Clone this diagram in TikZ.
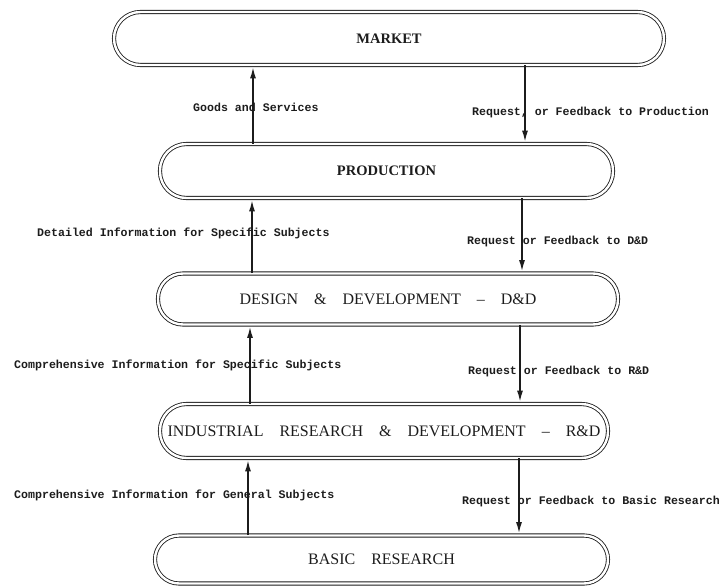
\documentclass[tikz,border=0pt]{standalone}
\usepackage{fontspec}
\setmainfont{Liberation Serif}
\newfontfamily\labfont{Liberation Mono}
\usetikzlibrary{arrows.meta}
\definecolor{ink}{HTML}{1C1C1C}
\begin{document}
\begin{tikzpicture}[x=1pt,y=-1pt,
  stage/.style={draw=ink, line width=0.85pt, double=white, double distance=2.4pt,
    rounded corners=#1, inner sep=0pt, text=ink},
  bigbold/.style={font=\fontsize{14.5}{17}\selectfont\bfseries},
  bigreg/.style={font=\fontsize{16}{19}\selectfont},
  lab/.style={font=\labfont\fontsize{11.6}{13}\selectfont\bfseries, text=ink,
    inner sep=0pt, anchor=west},
  flow/.style={draw=ink, line width=1.4pt, -{Latex[length=11pt,width=6pt]}}]

\useasboundingbox (0,0) rectangle (723,586);

% the five stages, top to bottom
\node[stage=26.5pt, bigbold, minimum width=550pt, minimum height=53pt]
  (mkt) at (389,38.5) {MARKET};
\node[stage=26.5pt, bigbold, minimum width=453pt, minimum height=54pt]
  (prod) at (386.5,171) {PRODUCTION};
\node[stage=25pt, bigreg, minimum width=460pt, minimum height=51pt]
  (dd) at (388,299) {DESIGN\quad\&\quad DEVELOPMENT\quad --\quad D\&D};
\node[stage=26.5pt, bigreg, minimum width=448pt, minimum height=54pt]
  (ird) at (384,431) {INDUSTRIAL\quad RESEARCH\quad\&\quad DEVELOPMENT\quad --\quad R\&D};
\node[stage=24pt, bigreg, minimum width=453pt, minimum height=48pt]
  (bas) at (381.5,559.5) {BASIC\quad RESEARCH};

% flow labels
\node[lab] (l1) at (193,107) {Goods and Services};
\node[lab] (r1) at (472,113) {Request, or Feedback to Production};
\node[lab] (l2) at (37,233) {Detailed Information for Specific Subjects};
\node[lab] (r2) at (467,241) {Request or Feedback to D\&D};
\node[lab] (l3) at (14,365) {Comprehensive Information for Specific Subjects};
\node[lab] (r3) at (468,371) {Request or Feedback to R\&D};
\node[lab] (l4) at (14,495) {Comprehensive Information for General Subjects};
\node[lab] (r4) at (462,501) {Request or Feedback to Basic Research};

% columns of the upward and downward flows
\coordinate (u1) at (253,0); \coordinate (d1) at (525,0);
\coordinate (u2) at (252,0); \coordinate (d2) at (522,0);
\coordinate (u3) at (250,0); \coordinate (d3) at (520,0);
\coordinate (u4) at (248,0); \coordinate (d4) at (519,0);

\draw[flow] (prod.north -| u1) -- ([yshift=-2pt]mkt.south -| u1);
\draw[flow] (mkt.south -| d1) -- ([yshift=2pt]prod.north -| d1);
\draw[flow] (dd.north -| u2) -- ([yshift=-2pt]prod.south -| u2);
\draw[flow] (prod.south -| d2) -- ([yshift=2pt]dd.north -| d2);
\draw[flow] (ird.north -| u3) -- ([yshift=-2pt]dd.south -| u3);
\draw[flow] (dd.south -| d3) -- ([yshift=2pt]ird.north -| d3);
\draw[flow] (bas.north -| u4) -- ([yshift=-2pt]ird.south -| u4);
\draw[flow] (ird.south -| d4) -- ([yshift=2pt]bas.north -| d4);
\end{tikzpicture}
\end{document}
